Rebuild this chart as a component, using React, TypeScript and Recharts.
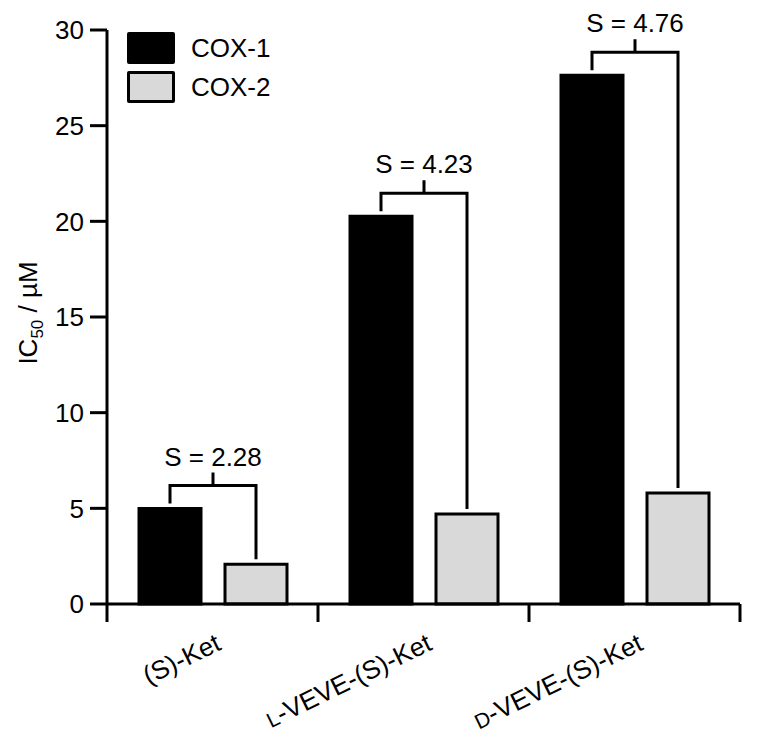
import React from "react";
import { BarChart, Bar, XAxis, YAxis, Legend, Label, Rectangle } from "recharts";

const categories = ["(S)-Ket", "L-VEVE-(S)-Ket", "D-VEVE-(S)-Ket"];
const cox1 = [4.99, 20.27, 27.63];
const cox2 = [2.08, 4.71, 5.8];
const selectivity = ["2.28", "4.23", "4.76"];
const yTicks = [0, 5, 10, 15, 20, 25, 30];
const seriesNames = ["COX-1", "COX-2"];
const seriesColors = ["#000000", "#d9d9d9"];

const data = categories.map((name, i) => ({
  name,
  cox1: cox1[i],
  cox2: cox2[i],
}));

const FONT = "'Liberation Sans', Arial, Helvetica, sans-serif";
const W = 764;
const H = 742;
const margin = { top: 30, right: 24, bottom: 0, left: 0 };
const yAxisW = 107;
const BAR = 62;
const GAP = 24;
const TICK = 18;
const band = (W - margin.left - margin.right - yAxisW) / categories.length;

function XTick(props: any) {
  const { x, y, payload, index } = props;
  const axisY = y - TICK;
  const label = String(payload.value);
  let prefix = "";
  let rest = label;
  if (label.startsWith("L-") || label.startsWith("D-")) {
    prefix = label[0];
    rest = label.slice(1);
  }
  const ex = x + 10;
  const ey = y + 27;
  return (
    <g>
      <line x1={x - band / 2} x2={x - band / 2} y1={axisY} y2={axisY + TICK} stroke="#000" strokeWidth={3} />
      {index === categories.length - 1 && (
        <line x1={x + band / 2} x2={x + band / 2} y1={axisY} y2={axisY + TICK} stroke="#000" strokeWidth={3} />
      )}
      <text
        x={ex}
        y={ey}
        textAnchor="end"
        transform={`rotate(-26 ${ex} ${ey})`}
        fontSize={26}
        fontFamily={FONT}
        fill="#000"
      >
        {prefix && <tspan fontSize={21}>{prefix}</tspan>}
        <tspan>{rest}</tspan>
      </text>
    </g>
  );
}

// COX-2 bar plus the selectivity bracket linking it to the COX-1 bar
function Cox2Shape(props: any) {
  const { x, y, width, height, index } = props;
  const base = y + height;
  const perUnit = height / cox2[index];
  const top1 = base - cox1[index] * perUnit;
  const xr = x + width / 2;
  const xl = xr - (width + GAP);
  const hy = top1 - 23;
  const xm = (xl + xr) / 2;
  return (
    <g>
      <Rectangle {...props} />
      <path
        d={`M${xl},${top1 - 5} V${hy} H${xr} V${y - 5} M${xm},${hy} V${hy - 13}`}
        fill="none"
        stroke="#000"
        strokeWidth={3}
      />
      <text x={xm} y={hy - 20} textAnchor="middle" fontSize={26} fontFamily={FONT} fill="#000">
        S = {selectivity[index]}
      </text>
    </g>
  );
}

function LegendBox() {
  return (
    <div style={{ fontFamily: FONT, fontSize: 26, color: "#000" }}>
      {seriesNames.map((n, i) => (
        <div
          key={n}
          style={{ display: "flex", alignItems: "center", height: 32, marginBottom: i === 0 ? 7 : 0 }}
        >
          <div
            style={{
              width: 48,
              height: 32,
              boxSizing: "border-box",
              border: "3px solid #000",
              borderRadius: 2,
              background: seriesColors[i],
            }}
          />
          <span style={{ marginLeft: 16, lineHeight: "32px", whiteSpace: "nowrap" }}>{n}</span>
        </div>
      ))}
    </div>
  );
}

export default function App() {
  return (
    <div style={{ position: "absolute", left: 0, top: 0, background: "#fff" }}>
      <BarChart width={W} height={H} data={data} margin={margin} barSize={BAR} barGap={GAP}>
        <XAxis
          dataKey="name"
          height={H - 604 - margin.bottom}
          axisLine={{ stroke: "#000", strokeWidth: 3 }}
          tickLine={false}
          tickSize={TICK}
          tickMargin={0}
          interval={0}
          tick={<XTick />}
        />
        <YAxis
          width={yAxisW}
          domain={[0, 30]}
          ticks={yTicks}
          interval={0}
          axisLine={{ stroke: "#000", strokeWidth: 3 }}
          tickLine={{ stroke: "#000", strokeWidth: 3 }}
          tickSize={17}
          tickMargin={6}
          tick={{ fill: "#000", fontSize: 26, fontFamily: FONT }}
        >
          <Label
            content={() => (
              <text
                transform="translate(37,313) rotate(-90)"
                textAnchor="middle"
                fontSize={26}
                fontFamily={FONT}
                fill="#000"
              >
                IC
                <tspan fontSize={17} dy={6}>
                  50
                </tspan>
                <tspan dy={-6}> / µM</tspan>
              </text>
            )}
          />
        </YAxis>
        <Legend
          layout="vertical"
          align="center"
          verticalAlign="middle"
          wrapperStyle={{ left: 127, top: 32, width: 200, height: 80 }}
          content={() => <LegendBox />}
        />
        <Bar dataKey="cox1" name="COX-1" fill={seriesColors[0]} stroke="#000" strokeWidth={3} isAnimationActive={false} />
        <Bar
          dataKey="cox2"
          name="COX-2"
          fill={seriesColors[1]}
          stroke="#000"
          strokeWidth={3}
          isAnimationActive={false}
          shape={<Cox2Shape />}
        />
      </BarChart>
    </div>
  );
}
